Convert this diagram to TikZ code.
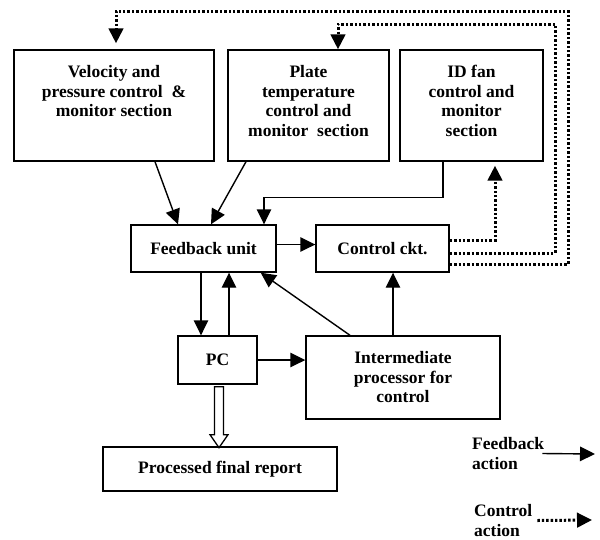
\documentclass[tikz,border=0pt]{standalone}
\usepackage{fontspec}
\setmainfont{Liberation Serif}
\usetikzlibrary{arrows.meta,calc}
\tikzset{
  unit/.style={draw, line width=1.4pt, inner sep=0pt, align=center,
               font=\bfseries\fontsize{17.5}{19.5}\selectfont},
  sect/.style={unit, minimum height=111pt},
  legend/.style={inner sep=0pt, align=left, anchor=west,
                 font=\bfseries\fontsize{17.5}{20}\selectfont},
  fbarrow/.style={-{Triangle[length=15pt,width=14.5pt]}, line width=1.4pt},
  ctrlarrow/.style={-{Triangle[length=15pt,width=14.5pt]}, line width=3pt,
                    dash pattern=on 2.4pt off 2pt},
  hollow/.style={draw, line width=1.3pt, fill=white}
}
\newcommand{\secttext}[2]{\parbox[c][80pt][t]{#1}{\centering #2}}

\begin{document}
\begin{tikzpicture}[x=1pt, y=-1pt]
\useasboundingbox (0,0) rectangle (600,539);
\node[sect, minimum width=200pt] (vel) at (114,105.5)
  {\secttext{195pt}{Velocity and\\ pressure control \ \&\\ monitor section}};
\node[sect, minimum width=161pt] (plate) at (308.5,105.5)
  {\secttext{158pt}{Plate\\ temperature\\ control and\\ monitor\ \ section}};
\node[sect, minimum width=143pt] (idfan) at (471.5,105.5)
  {\secttext{140pt}{ID fan\\ control and\\ monitor\\ section}};
\node[unit, minimum width=145pt, minimum height=47pt] (fb) at (203.5,248.5) {Feedback unit};
\node[unit, minimum width=133pt, minimum height=47pt] (cc) at (382.5,248.5) {Control ckt.};
\node[unit, minimum width=79pt, minimum height=48pt] (pc) at (217.5,360) {PC};
\node[unit, minimum width=194pt, minimum height=83pt] (ip) at (403,377.5)
  {Intermediate\\ processor for\\ control};
\node[unit, minimum width=234pt, minimum height=44pt] (rep) at (220,469) {Processed final report};
\node[legend] (fbleg) at (472,453.5) {Feedback\\ action};
\node[legend] (ctlleg) at (474,520.5) {Control\\ action};
\coordinate (fbend) at (595,454);
\coordinate (ctlend) at (592,520);
\coordinate (loopin) at (555,24);
\coordinate (loopout) at (568,11);

% feedback paths
\draw[fbarrow] ([xshift=41pt]vel.south) -- ([xshift=-25.5pt]fb.north);
\draw[fbarrow] ([xshift=-62.5pt]plate.south) -- ([xshift=7.5pt]fb.north);
\draw[fbarrow] ([xshift=-28.5pt]idfan.south) -- ++(0,36) -| ([xshift=60.5pt]fb.north);
\draw[fbarrow] ([yshift=4pt]fb.east) -- ([yshift=4pt]fb.east -| cc.west);
\draw[fbarrow] ([xshift=-2.5pt]fb.south) -- ([xshift=-2.5pt]fb.south |- pc.north);
\draw[fbarrow] ([xshift=11.5pt]pc.north) -- ([xshift=11.5pt]pc.north |- fb.south);
\draw[fbarrow] ([xshift=-53pt]ip.north) -- ([xshift=-16pt]fb.south east);
\draw[fbarrow] ([xshift=-10pt]ip.north) -- ([xshift=-10pt]ip.north |- cc.south);
\draw[fbarrow] (pc.east) -- (pc.east -| ip.west);

% control paths
\draw[ctrlarrow] ([yshift=8.5pt]cc.east) -| ([xshift=23.5pt,yshift=-4pt]idfan.south);
\draw[ctrlarrow] ([yshift=-4.5pt]cc.east) -| (loopin) -| ([xshift=29.5pt]plate.north);
\draw[ctrlarrow] ([yshift=-15.5pt]cc.east) -| (loopout) -| ([xshift=2pt,yshift=6pt]vel.north);

% report arrow
\coordinate (hs) at ([xshift=1.5pt,yshift=-2pt]pc.south);
\draw[hollow] ($(hs)+(-4.5,0)$) -- ($(hs)+(4.5,0)$) -- ($(hs)+(4.5,48)$)
  -- ($(hs)+(9,48)$) -- ($(hs)+(0,61)$) -- ($(hs)+(-9,48)$) -- ($(hs)+(-4.5,48)$) -- cycle;

% legend
\draw[fbarrow] ([xshift=-2pt]fbleg.east) -- (fbend);
\draw[ctrlarrow] ([xshift=5pt]ctlleg.east) -- (ctlend);
\end{tikzpicture}
\end{document}
